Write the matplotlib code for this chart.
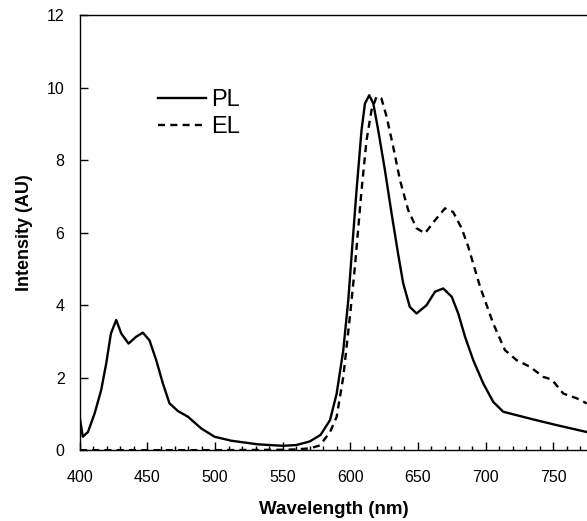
import numpy as np
import matplotlib.pyplot as plt
from matplotlib.ticker import MultipleLocator

plt.rcParams['font.family'] = ['Liberation Sans', 'DejaVu Sans']

# PL spectrum (wavelength nm, intensity AU)
pl_wl = [400, 402.2, 406, 411, 415.8, 419.5, 423, 426.9, 430.6, 436, 441.7, 446.6, 451.5,
         456.5, 461.4, 466.3, 472.5, 480, 489.7, 499.6, 512, 521.8, 531.7, 550, 560, 570,
         578, 585, 589.9, 594.8, 598.5, 601, 604.6, 608.3, 610.8, 614, 617, 620.6, 625.6,
         630.5, 635.4, 639.1, 644, 649, 656.4, 662.6, 668.7, 675, 679.8, 684.8, 690.9,
         698.3, 705.7, 713, 732.8, 752.6, 774.8]
pl_int = [0.88, 0.37, 0.5, 1.02, 1.66, 2.39, 3.22, 3.59, 3.22, 2.94, 3.13, 3.24, 3.03,
          2.48, 1.84, 1.29, 1.08, 0.92, 0.6, 0.37, 0.26, 0.21, 0.16, 0.12, 0.14, 0.24,
          0.42, 0.83, 1.56, 2.76, 4.14, 5.4, 7.17, 8.83, 9.56, 9.79, 9.56, 8.83, 7.72,
          6.53, 5.4, 4.6, 3.95, 3.77, 4.0, 4.37, 4.46, 4.23, 3.77, 3.13, 2.48,
          1.84, 1.33, 1.06, 0.87, 0.69, 0.5]

# EL spectrum
el_wl = [400, 500, 550, 560, 570, 577.5, 585, 589.9, 594.8, 599.7, 603.4, 608.3, 612,
         615.7, 619.4, 623, 626.8, 631.7, 636.7, 642.8, 649, 655.2, 662.6, 670, 676,
         682.3, 687.2, 695.9, 705.7, 714.3, 723, 732.8, 742.7, 748.9, 757.5, 767.4, 774.8]
el_int = [0.0, 0.0, 0.01, 0.02, 0.05, 0.13, 0.5, 0.92, 2.02, 3.68, 5.06, 7.17, 8.55,
          9.38, 9.75, 9.7, 9.2, 8.37, 7.45, 6.62, 6.12, 5.98, 6.34, 6.67, 6.57,
          6.12, 5.61, 4.51, 3.49, 2.76, 2.48, 2.3, 2.02, 1.95, 1.56, 1.43, 1.29]

fig = plt.figure(figsize=(5.87, 5.21), dpi=100)
ax = fig.add_axes([0.136, 0.136, 0.864, 0.835])

ax.plot(pl_wl, pl_int, color='black', lw=1.7, label='PL')
ax.plot(el_wl, el_int, color='black', lw=1.7, ls=(0, (3, 2.2)), label='EL')

ax.set_xlim(400, 775)
ax.set_ylim(0, 12)
ax.xaxis.set_major_locator(MultipleLocator(50))
ax.xaxis.set_minor_locator(MultipleLocator(10))
ax.yaxis.set_major_locator(MultipleLocator(2))
ax.tick_params(axis='both', which='major', direction='in', length=6, width=1, labelsize=11.5)
ax.tick_params(axis='x', which='minor', direction='in', length=3, width=1)
ax.tick_params(axis='x', pad=14)
ax.tick_params(axis='y', pad=11)
ax.spines['right'].set_visible(False)
for s in ['left', 'top', 'bottom']:
    ax.spines[s].set_linewidth(1.0)

ax.set_xlabel('Wavelength (nm)', fontsize=13.5, fontweight='bold', labelpad=12)
ax.set_ylabel('Intensity (AU)', fontsize=13, fontweight='bold', labelpad=10)

leg = ax.legend(loc='upper left', bbox_to_anchor=(0.112, 0.878), frameon=False,
                fontsize=17, handlelength=2.05, handletextpad=0.2, labelspacing=0.2)

fig.savefig('out.png', dpi=100)
